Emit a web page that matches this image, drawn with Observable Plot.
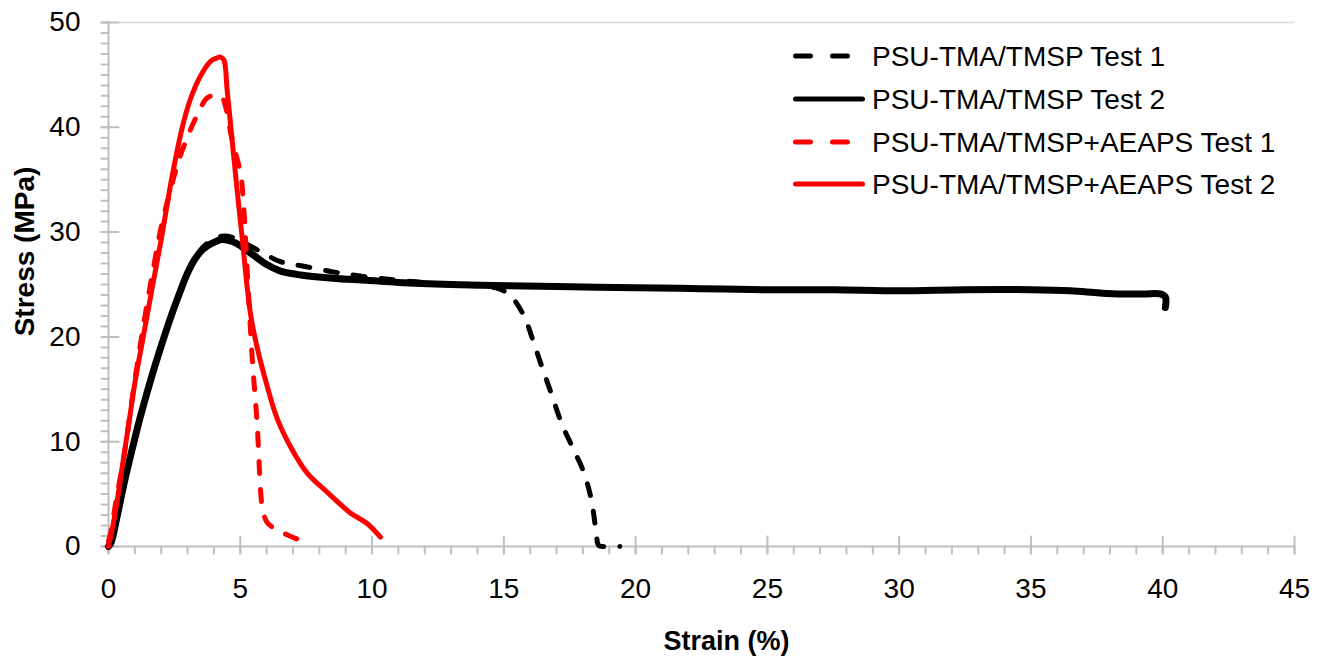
<!DOCTYPE html>
<html>
<head>
<meta charset="utf-8">
<script src="https://cdn.jsdelivr.net/npm/d3@7"></script>
<script src="https://cdn.jsdelivr.net/npm/@observablehq/plot@0.6"></script>
<style>
  html, body { margin: 0; padding: 0; background: #fff; }
  #wrap { position: relative; width: 1324px; height: 663px; }
  #legend { position: absolute; left: 0; top: 0; pointer-events: none; }
</style>
</head>
<body>
<div id="wrap"></div>
<script>
// ---- Data ----
const seriesNames = [
  "PSU-TMA/TMSP Test 1",
  "PSU-TMA/TMSP Test 2",
  "PSU-TMA/TMSP+AEAPS Test 1",
  "PSU-TMA/TMSP+AEAPS Test 2"
];
const seriesColors = ["#000000", "#000000", "#ff0000", "#ff0000"];
const seriesDashed = [true, false, true, false];

const strainPsuT1 = [0, 0.33, 0.58, 0.9, 1.21, 1.59, 1.97, 2.35, 2.73, 3.0, 3.3, 3.6, 3.9, 4.3, 4.7, 5.2, 5.8, 6.5, 7.5, 9.0, 11.0, 13.0, 14.8, 15.3, 15.8, 16.1, 16.45, 16.8, 17.2, 17.6, 18.0, 18.3, 18.5, 18.6, 18.8, 19.4];
const stressPsuT1 = [0, 2.9, 5.9, 9.3, 12.4, 15.8, 18.9, 21.8, 24.4, 26.1, 27.6, 28.6, 29.2, 29.6, 29.5, 28.9, 28.1, 27.2, 26.7, 26.0, 25.4, 25.0, 24.6, 23.8, 21.8, 19.7, 17.1, 14.6, 11.7, 9.5, 7.3, 4.7, 1.5, 0.1, 0, 0];

const strainPsuT2 = [0, 0.1, 0.33, 0.58, 0.9, 1.21, 1.59, 1.97, 2.35, 2.73, 3.0, 3.3, 3.6, 3.9, 4.3, 4.7, 5.0, 5.5, 6.0, 6.5, 7.3, 8.5, 9.8, 11, 13, 14.6, 17, 20, 22.5, 25, 27.5, 30, 32.5, 35, 36.5, 37.6, 38.5, 39.3, 39.9, 40.1, 40.1];
const stressPsuT2 = [0, 0.4, 2.9, 5.9, 9.3, 12.4, 15.8, 18.9, 21.8, 24.4, 26.1, 27.5, 28.4, 28.9, 29.3, 29.1, 28.7, 27.8, 26.9, 26.3, 25.9, 25.6, 25.4, 25.2, 25.0, 24.9, 24.8, 24.7, 24.6, 24.5, 24.5, 24.4, 24.5, 24.5, 24.4, 24.2, 24.1, 24.1, 24.1, 23.8, 22.8];

const strainAeapsT1 = [0, 0.1, 0.27, 0.58, 0.96, 1.34, 1.7, 2.0, 2.35, 2.67, 3.05, 3.43, 3.74, 4.12, 4.3, 4.44, 4.69, 5.01, 5.13, 5.26, 5.45, 5.64, 5.78, 5.85, 6.02, 6.46, 6.84, 7.47];
const stressAeapsT1 = [0.5, 1.5, 4.1, 8.5, 15.2, 21.3, 26.5, 30.5, 34.0, 36.9, 39.4, 41.5, 42.8, 43.1, 42.9, 42.0, 38.8, 35.6, 32.4, 26.5, 18.1, 11.7, 5.0, 3.5, 2.3, 1.5, 1.05, 0.4];

const strainAeapsT2 = [0, 0.08, 0.27, 0.52, 0.77, 1.02, 1.34, 1.66, 2.0, 2.42, 2.80, 3.11, 3.49, 3.87, 4.1, 4.25, 4.38, 4.50, 4.69, 4.88, 5.07, 5.26, 5.4, 5.64, 6.02, 6.40, 6.91, 7.54, 8.29, 9.18, 9.81, 10.32];
const stressAeapsT2 = [0, 0.9, 3.4, 7.6, 11.7, 15.9, 20.3, 24.7, 29.3, 35.4, 40.0, 42.7, 44.9, 46.3, 46.6, 46.7, 46.4, 43.6, 38.8, 34.0, 29.5, 24.8, 22.0, 19.0, 15.3, 12.2, 9.5, 7.0, 5.2, 3.2, 2.2, 0.9];

const xMajorTicks = [0, 5, 10, 15, 20, 25, 30, 35, 40, 45];
const xMinorTicks = d3.range(0, 46, 1);
const yMajorTicks = [0, 10, 20, 30, 40, 50];
const yMinorTicks = d3.range(0, 51, 1);
const xTitle = "Strain (%)";
const yTitle = "Stress (MPa)";

// ---- Build tables ----
const strainSets = [strainPsuT1, strainPsuT2, strainAeapsT1, strainAeapsT2];
const stressSets = [stressPsuT1, stressPsuT2, stressAeapsT1, stressAeapsT2];
const tables = strainSets.map((xs, i) => xs.map((x, j) => ({strain: x, stress: stressSets[i][j]})));

const axisGray = "#bfbfbf";
const tickShape = {draw(context, l) { context.moveTo(0, 0); context.lineTo(0, -l); }};

const lineMarks = tables.map((t, i) => Plot.line(t, {
  x: "strain", y: "stress",
  stroke: seriesColors[i],
  strokeWidth: i === 1 ? 7 : 5,
  strokeDasharray: seriesDashed[i] ? "12,16" : null,
  strokeLinecap: "round",
  strokeLinejoin: "round",
  curve: "catmull-rom"
}));

const chart = Plot.plot({
  width: 1324,
  height: 663,
  marginLeft: 108,
  marginRight: 30,
  marginTop: 22,
  marginBottom: 117,
  style: {fontFamily: "'Liberation Sans', Arial, sans-serif", color: "#000", background: "#fff", overflow: "visible"},
  x: {domain: [0, 45]},
  y: {domain: [0, 50]},
  marks: [
    Plot.ruleY([50], {stroke: "#d9d9d9", strokeWidth: 1.5}),
    Plot.ruleY([0], {stroke: axisGray, strokeWidth: 2}),
    Plot.ruleX([0], {stroke: axisGray, strokeWidth: 2}),
    Plot.vector(xMinorTicks, {x: d => d, y: 0, length: 7, rotate: 180, anchor: "start", shape: tickShape, stroke: axisGray, strokeWidth: 2}),
    Plot.vector(xMajorTicks, {x: d => d, y: 0, length: 17, rotate: 180, anchor: "start", dy: -10, shape: tickShape, stroke: axisGray, strokeWidth: 2}),
    Plot.vector(yMinorTicks, {x: 0, y: d => d, length: 7, rotate: 270, anchor: "start", shape: tickShape, stroke: axisGray, strokeWidth: 2}),
    Plot.vector(yMajorTicks, {x: 0, y: d => d, length: 17, rotate: 90, anchor: "start", dx: -7, shape: tickShape, stroke: axisGray, strokeWidth: 2}),
    Plot.axisX(xMajorTicks, {tickSize: 0, tickPadding: 32, fontSize: 28, label: null, fill: "#000"}),
    Plot.axisY(yMajorTicks, {tickSize: 0, tickPadding: 28, fontSize: 28, label: null, fill: "#000"}),
    Plot.text([xTitle], {frameAnchor: "bottom", dx: 25, dy: 103, fontSize: 27, fontWeight: "bold", fill: "#000"}),
    Plot.text([yTitle], {frameAnchor: "left", textAnchor: "middle", rotate: -90, dx: -83, dy: -33, fontSize: 28, fontWeight: "bold", fill: "#000"}),
    ...lineMarks
  ]
});

const wrap = document.getElementById("wrap");
wrap.appendChild(chart);

// ---- Legend overlay ----
const legendRows = [56, 99, 142, 184];
const svg = d3.select(wrap).append("svg")
  .attr("id", "legend")
  .attr("width", 1324).attr("height", 663);
seriesNames.forEach((name, i) => {
  const g = svg.append("g").attr("transform", `translate(0,${legendRows[i]})`);
  g.append("line")
    .attr("x1", 795.5).attr("x2", 862.5).attr("y1", 0).attr("y2", 0)
    .attr("stroke", seriesColors[i]).attr("stroke-width", 5)
    .attr("stroke-linecap", "round")
    .attr("stroke-dasharray", seriesDashed[i] ? "15,22" : null);
  g.append("text")
    .attr("x", 872).attr("y", 10)
    .attr("font-family", "'Liberation Sans', Arial, sans-serif")
    .attr("font-size", 28).attr("fill", "#000")
    .text(name);
});
</script>
</body>
</html>
